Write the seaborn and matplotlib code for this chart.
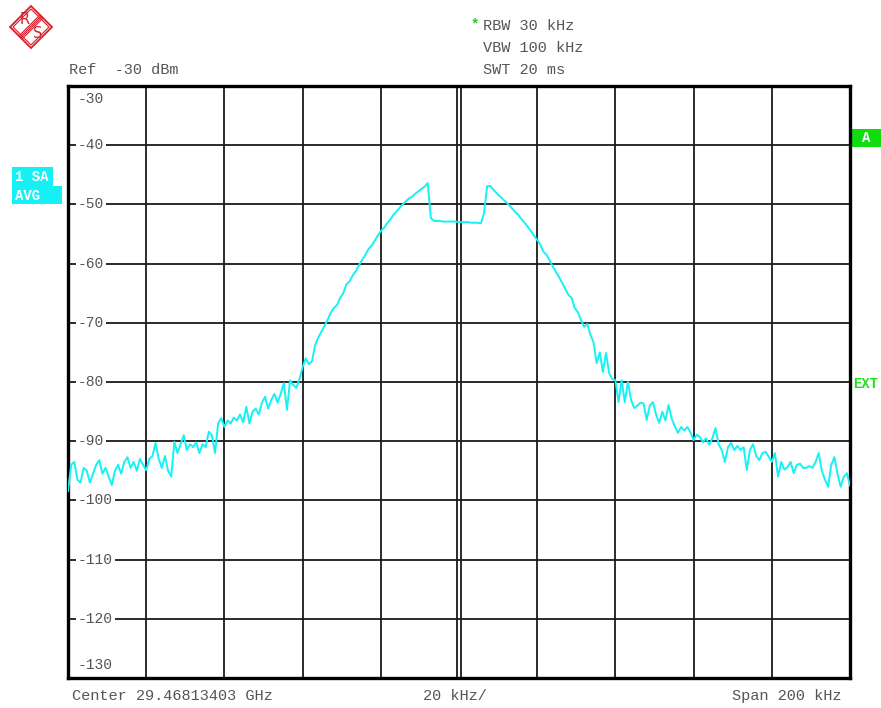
import numpy as np
import matplotlib
matplotlib.use("Agg")
import matplotlib.pyplot as plt
import matplotlib.transforms as mtransforms
from matplotlib.patches import Polygon, Rectangle
import seaborn as sns

# ---------------- data ----------------
span_khz = 200
n_points = 251
freq_khz = np.linspace(-span_khz / 2, span_khz / 2, n_points)  # sweep grid (offset from center)

level_dbm = [
    -98.5, -94.0, -93.5, -96.5, -97.0, -94.5, -95.0, -97.0, -95.5, -94.0,
    -93.2, -95.5, -94.5, -96.0, -97.4, -95.0, -94.0, -95.5, -93.5, -92.7,
    -94.5, -93.5, -95.0, -93.0, -94.0, -94.9, -93.0, -92.5, -90.3, -93.0,
    -94.5, -92.5, -95.0, -96.0, -90.1, -92.0, -90.5, -89.0, -91.5, -90.5,
    -91.0, -90.2, -92.0, -90.5, -91.0, -88.4, -89.0, -92.0, -87.0, -86.1,
    -87.6, -86.5, -87.0, -86.0, -86.5, -85.5, -86.8, -84.2, -87.0, -85.0,
    -84.5, -85.5, -83.5, -82.5, -84.5, -83.0, -82.0, -83.5, -82.0, -80.2,
    -84.7, -79.7, -80.5, -81.0, -79.5, -77.5, -76.0, -77.0, -76.5, -73.8,
    -72.5, -71.5, -70.5, -69.5, -68.3, -67.5, -67.0, -65.8, -65.0, -63.5,
    -63.0, -62.0, -61.3, -60.3, -59.4, -58.6, -57.6, -57.0, -56.2, -55.3,
    -54.5, -54.0, -53.2, -52.6, -51.8, -51.2, -50.6, -50.0, -49.5, -49.0,
    -48.7, -48.2, -47.8, -47.4, -47.0, -46.4, -52.3, -52.8, -52.8, -52.8,
    -52.9, -52.9, -52.9, -52.9, -52.9, -53.0, -53.0, -53.0, -53.0, -53.1,
    -53.1, -53.1, -53.2, -51.5, -46.9, -46.9, -47.5, -48.1, -48.6, -49.1,
    -49.6, -50.1, -50.7, -51.3, -51.8, -52.5, -53.1, -53.8, -54.5, -55.3,
    -56.0, -56.8, -58.0, -58.5, -59.5, -60.5, -61.4, -62.3, -63.3, -64.3,
    -65.3, -65.8, -67.5, -68.2, -69.5, -70.7, -70.2, -72.0, -73.3, -76.8,
    -75.0, -78.3, -75.1, -78.5, -79.5, -79.7, -83.4, -79.7, -83.4, -80.0,
    -83.0, -84.4, -84.0, -83.5, -83.6, -86.4, -84.0, -83.4, -85.5, -86.9,
    -85.0, -86.5, -83.9, -86.2, -87.5, -88.6, -87.6, -88.2, -87.6, -88.5,
    -89.8, -88.9, -89.3, -90.2, -89.5, -90.6, -89.5, -87.8, -90.5, -91.5,
    -93.5, -91.0, -90.3, -91.5, -90.8, -91.5, -91.0, -94.9, -91.5, -90.5,
    -92.5, -93.2, -92.0, -91.8, -92.6, -93.5, -92.0, -96.0, -93.5, -94.8,
    -94.4, -93.5, -95.4, -94.0, -93.8, -94.5, -94.5, -94.2, -94.5, -93.5,
    -92.0, -95.0, -96.5, -97.7, -94.0, -92.7, -95.5, -97.7, -96.0, -95.4,
    -97.5,
]

y_ticks = [-30, -40, -50, -60, -70, -80, -90, -100, -110, -120, -130]
x_grid = [-80, -60, -40, -20, 20, 40, 60, 80]

ref_text = "Ref  -30 dBm"
setting_texts = ["RBW 30 kHz", "VBW 100 kHz", "SWT 20 ms"]
center_text = "Center 29.46813403 GHz"
div_text = "20 kHz/"
span_text = "Span 200 kHz"

# ---------------- style ----------------
sns.set_style("white")
plt.rcParams['font.family'] = ['Liberation Mono', 'DejaVu Sans Mono']

W, H = 881, 708
fig = plt.figure(figsize=(W / 100, H / 100), dpi=100)
fig.patch.set_facecolor("white")

# overlay axes in pixel coordinates
ov = fig.add_axes([0, 0, 1, 1])
ov.set_xlim(0, W)
ov.set_ylim(H, 0)
ov.axis("off")
ov.patch.set_alpha(0)

# main plot axes
L, R, T, B = 68, 850, 86, 678
ax = fig.add_axes([L / W, 1 - B / H, (R - L) / W, (B - T) / H])
ax.set_facecolor("white")

grid_col = "#1a1a1a"
for xv in x_grid:
    ax.axvline(xv, color=grid_col, lw=1.3, zorder=1)
ax.axvline(-0.5, color=grid_col, lw=1.3, zorder=1)
ax.axvline(0.5, color=grid_col, lw=1.3, zorder=1)
for yv in y_ticks[1:-1]:
    ax.axhline(yv, color=grid_col, lw=1.3, zorder=1)

sns.lineplot(x=freq_khz, y=level_dbm, ax=ax, color="#14f2f6", linewidth=1.4,
             sort=False, estimator=None, zorder=5)

ax.set_xlim(-100, 100)
ax.set_ylim(-130, -30)
ax.set_xticks([])
ax.set_yticks([])
ax.set_xlabel("")
ax.set_ylabel("")
for s in ax.spines.values():
    s.set_visible(True)
    s.set_color("black")
    s.set_linewidth(2.4)

txt_col = "#555555"
btrans = mtransforms.blended_transform_factory(ax.transAxes, ax.transData)
for yv in y_ticks:
    if yv == -30:
        ax.text(0.0125, yv - 1.0, str(yv), transform=btrans, ha="left", va="top",
                fontsize=10.5, color=txt_col, zorder=3)
    elif yv == -130:
        ax.text(0.0125, yv + 1.0, str(yv), transform=btrans, ha="left", va="bottom",
                fontsize=10.5, color=txt_col, zorder=3)
    else:
        ax.text(0.0125, yv, str(yv), transform=btrans, ha="left", va="center",
                fontsize=10.5, color=txt_col, zorder=3,
                bbox=dict(facecolor="white", edgecolor="none", pad=1.5))

# header / footer texts
ov.text(69, 70, ref_text, ha="left", va="center", fontsize=11, color=txt_col)
for i, t in enumerate(setting_texts):
    ov.text(483, 26 + 22 * i, t, ha="left", va="center", fontsize=11, color=txt_col)
ov.text(475, 24, "*", ha="center", va="center", fontsize=10, color="#22cc22",
        fontweight="bold")
ov.text(72, 696, center_text, ha="left", va="center", fontsize=11, color=txt_col)
ov.text(423, 696, div_text, ha="left", va="center", fontsize=11, color=txt_col)
ov.text(841, 696, span_text, ha="right", va="center", fontsize=11, color=txt_col)

# trace label box (cyan)
ov.add_patch(Polygon([(12, 167), (53, 167), (53, 186), (62, 186), (62, 204), (12, 204)],
                     closed=True, facecolor="#14f0f4", edgecolor="none"))
ov.text(15, 177, "1 SA", ha="left", va="center", fontsize=10, color="white",
        fontweight="bold")
ov.text(15, 196, "AVG", ha="left", va="center", fontsize=10, color="white",
        fontweight="bold")

# right side markers
ov.add_patch(Rectangle((851, 129), 30, 18, facecolor="#10dd10", edgecolor="none"))
ov.text(866, 138.5, "A", ha="center", va="center", fontsize=10, color="white",
        fontweight="bold")
ov.text(866, 384, "EXT", ha="center", va="center", fontsize=10, color="#22dd22",
        fontweight="bold")

# R&S logo
red = "#d81e2a"
cx, cy, r = 31, 27, 21
ov.add_patch(Polygon([(cx, cy - r), (cx + r, cy), (cx, cy + r), (cx - r, cy)],
                     closed=True, facecolor="none", edgecolor=red, lw=1.3))
r2 = r - 3
ov.add_patch(Polygon([(cx, cy - r2), (cx + r2, cy), (cx, cy + r2), (cx - r2, cy)],
                     closed=True, facecolor="none", edgecolor=red, lw=0.8))
for off in (-2.2, -0.7, 0.7, 2.2):
    dx = off / np.sqrt(2)
    ov.plot([cx + 10.5 + dx, cx - 10.5 + dx], [cy - 10.5 + dx, cy + 10.5 + dx],
            color=red, lw=0.8)
ov.text(25, 20, "R", ha="center", va="center", fontsize=10.5, color=red,
        family="DejaVu Sans")
ov.text(37.5, 34, "S", ha="center", va="center", fontsize=10.5, color=red,
        family="DejaVu Sans")

fig.savefig("out.png", dpi=100, facecolor="white")
